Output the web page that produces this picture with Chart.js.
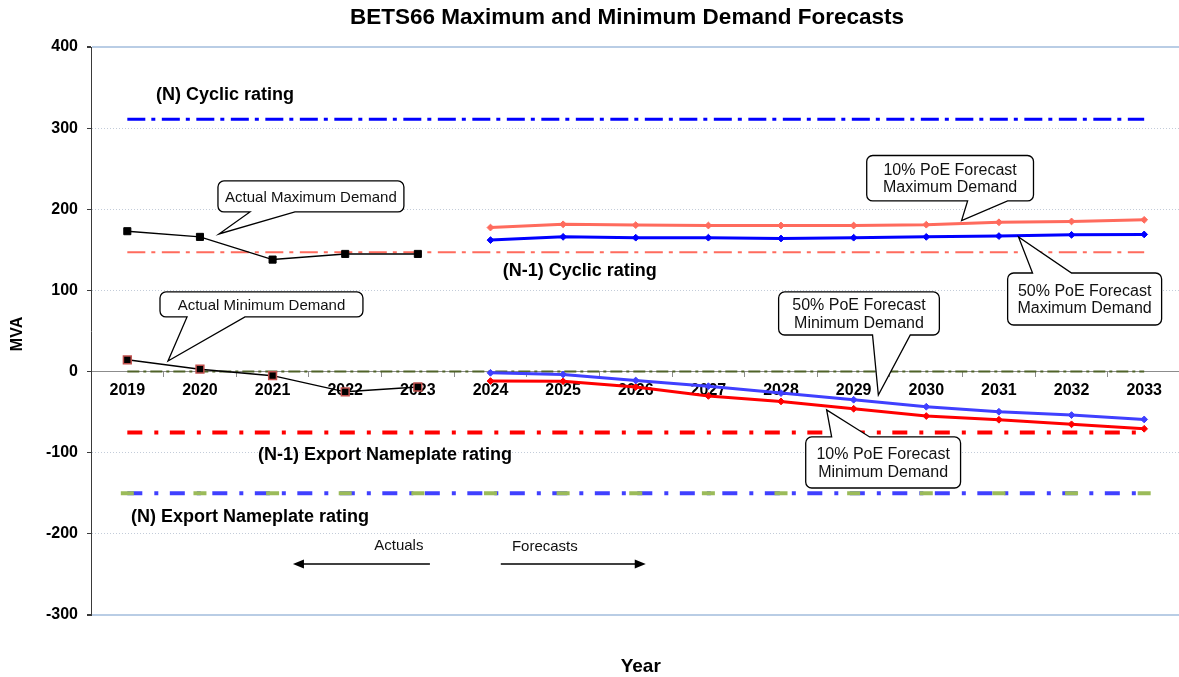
<!DOCTYPE html>
<html>
<head>
<meta charset="utf-8">
<title>BETS66 Maximum and Minimum Demand Forecasts</title>
<script src="https://cdn.jsdelivr.net/npm/chart.js@4/dist/chart.umd.min.js"></script>
<style>
  html, body { margin: 0; padding: 0; background: #ffffff; overflow: hidden; }
  canvas { display: block; }
</style>
</head>
<body>
<canvas id="chart" width="1191" height="677"></canvas>
<script>
// ---- data (MVA) ----
const years = ['2019','2020','2021','2022','2023','2024','2025','2026','2027','2028','2029','2030','2031','2032','2033'];

const actualMaxDemand = [173, 166, 138, 145, 145, null, null, null, null, null, null, null, null, null, null];
const actualMinDemand = [14.5, 3, -5, -25, -19, null, null, null, null, null, null, null, null, null, null];

const poe10MaxForecast = [null, null, null, null, null, 177.5, 181.5, 180.5, 180, 180, 180, 181, 184, 185, 187];
const poe50MaxForecast = [null, null, null, null, null, 162, 166, 165, 165, 164, 165, 166, 167, 168.5, 169];
const poe50MinForecast = [null, null, null, null, null, -1.5, -3.5, -11, -18, -26.5, -34.7, -43.3, -49.5, -53.6, -59];
const poe10MinForecast = [null, null, null, null, null, -11.7, -12, -19, -30, -36.8, -45.8, -54.8, -59.4, -65, -70.5];

const nCyclicRating      = [311, 311, 311, 311, 311, 311, 311, 311, 311, 311, 311, 311, 311, 311, 311];
const n1CyclicRating     = [147, 147, 147, 147, 147, 147, 147, 147, 147, 147, 147, 147, 147, 147, 147];
const n1ExportNameplate  = [-75, -75, -75, -75, -75, -75, -75, -75, -75, -75, -75, -75, -75, -75, -75];
const nExportNameplate   = [-150, -150, -150, -150, -150, -150, -150, -150, -150, -150, -150, -150, -150, -150, -150];
const nExportMarkers     = [-150, -150, -150, -150, -150, -150, -150, -150, -150, -150, -150, -150, -150, -150, -150];
const zeroReference      = [0, 0, 0, 0, 0, 0, 0, 0, 0, 0, 0, 0, 0, 0, 0];

const yTickValues = [-300, -200, -100, 0, 100, 200, 300, 400];

// ---- styling ----
const FONT = '"Liberation Sans", Arial, Helvetica, sans-serif';
const SALMON = '#ff6b5d';
const BLUE = '#0000ff';
const LIGHT_BLUE = '#4040ff';
const RED = '#ff0000';
const DASH_DOT_THIN = [18, 6, 4, 6.5];
const DASH_DOT_THICK = [15, 12, 4, 11.5];

// Callouts: box [leftIdx, rightIdx, topMVA, bottomMVA], pointer base on a box edge, tip near the series
const callouts = [
  { lines: ['Actual Maximum Demand'], size: 15, box: [1.248, 3.808, 234.9, 196.7], side: 'bottom', base: [1.688, 2.308], tip: [1.262, 169.6] },
  { lines: ['Actual Minimum Demand'], size: 15, box: [0.45, 3.244, 98.1, 67.3], side: 'bottom', base: [0.822, 1.62], tip: [0.56, 13.1] },
  { lines: ['10% PoE Forecast', 'Maximum Demand'], size: 16, box: [10.18, 12.476, 266.3, 210.3], side: 'bottom', base: [11.569, 12.12], tip: [11.486, 186] },
  { lines: ['50% PoE Forecast', 'Maximum Demand'], size: 16, box: [12.12, 14.24, 121.5, 57.4], side: 'top', base: [12.463, 13.0], tip: [12.27, 165.9] },
  { lines: ['50% PoE Forecast', 'Minimum Demand'], size: 16, box: [8.967, 11.18, 98.1, 45.1], side: 'bottom', base: [10.26, 10.78], tip: [10.34, -28.8] },
  { lines: ['10% PoE Forecast', 'Minimum Demand'], size: 16, box: [9.34, 11.472, -80.6, -143.5], side: 'top', base: [9.697, 10.22], tip: [9.628, -47.3] }
];

// Rating captions, left-aligned at [categoryIndex, MVA]
const ratingCaptions = [
  { text: '(N) Cyclic rating', at: [0.396, 340.9] },
  { text: '(N-1) Cyclic rating', at: [5.17, 124] },
  { text: '(N-1) Export Nameplate rating', at: [1.8, -102.8] },
  { text: '(N) Export Nameplate rating', at: [0.05, -179] }
];

// Period markers below the plot
const periodNotes = [
  { text: 'Actuals', at: [3.738, -214.5], arrow: [4.166, 2.28, -237.1] },
  { text: 'Forecasts', at: [5.748, -215.7], arrow: [5.142, 7.138, -237.1] }
];

function drawCallout(ctx, c, X, Y) {
  const x0 = X(c.box[0]), x1 = X(c.box[1]), y0 = Y(c.box[2]), y1 = Y(c.box[3]);
  const tx = X(c.tip[0]), ty = Y(c.tip[1]);
  const b0 = X(c.base[0]), b1 = X(c.base[1]);
  const r = 6;
  ctx.save();
  ctx.beginPath();
  ctx.moveTo(x0 + r, y0);
  if (c.side === 'top') { ctx.lineTo(b0, y0); ctx.lineTo(tx, ty); ctx.lineTo(b1, y0); }
  ctx.lineTo(x1 - r, y0);
  ctx.arcTo(x1, y0, x1, y0 + r, r);
  ctx.lineTo(x1, y1 - r);
  ctx.arcTo(x1, y1, x1 - r, y1, r);
  if (c.side === 'bottom') { ctx.lineTo(b1, y1); ctx.lineTo(tx, ty); ctx.lineTo(b0, y1); }
  ctx.lineTo(x0 + r, y1);
  ctx.arcTo(x0, y1, x0, y1 - r, r);
  ctx.lineTo(x0, y0 + r);
  ctx.arcTo(x0, y0, x0 + r, y0, r);
  ctx.closePath();
  ctx.fillStyle = '#ffffff';
  ctx.fill();
  ctx.lineWidth = 1.3;
  ctx.strokeStyle = '#000000';
  ctx.stroke();
  ctx.fillStyle = '#111111';
  ctx.font = c.size + 'px ' + FONT;
  ctx.textAlign = 'center';
  ctx.textBaseline = 'middle';
  const cx = (x0 + x1) / 2, cy = (y0 + y1) / 2;
  const gap = 17.4;
  const start = cy - gap * (c.lines.length - 1) / 2;
  c.lines.forEach((t, i) => ctx.fillText(t, cx, start + i * gap + 1));
  ctx.restore();
}

function drawArrow(ctx, xFrom, xTo, y) {
  const dir = Math.sign(xTo - xFrom);
  ctx.save();
  ctx.strokeStyle = '#000';
  ctx.fillStyle = '#000';
  ctx.lineWidth = 1.5;
  ctx.beginPath();
  ctx.moveTo(xFrom, y);
  ctx.lineTo(xTo - dir * 8, y);
  ctx.stroke();
  ctx.beginPath();
  ctx.moveTo(xTo, y);
  ctx.lineTo(xTo - dir * 11, y - 4.5);
  ctx.lineTo(xTo - dir * 11, y + 4.5);
  ctx.closePath();
  ctx.fill();
  ctx.restore();
}

const annotationsPlugin = {
  id: 'demandAnnotations',
  afterDraw(chart) {
    const ctx = chart.ctx;
    const xs = chart.scales.x, ys = chart.scales.y;
    const X = v => xs.getPixelForValue(v);
    const Y = v => ys.getPixelForValue(v);
    const area = chart.chartArea;

    ctx.save();
    // chart title
    ctx.fillStyle = '#000';
    ctx.font = 'bold 22.5px ' + FONT;
    ctx.textAlign = 'center';
    ctx.textBaseline = 'middle';
    ctx.fillText('BETS66 Maximum and Minimum Demand Forecasts', 627, 18);

    // axis titles
    ctx.font = 'bold 19px ' + FONT;
    ctx.fillText('Year', (area.left + area.right) / 2 + 5, 667);
    ctx.save();
    ctx.translate(18, (area.top + area.bottom) / 2 + 3);
    ctx.rotate(-Math.PI / 2);
    ctx.font = 'bold 16px ' + FONT;
    ctx.fillText('MVA', 0, 0);
    ctx.restore();

    // rating captions
    ctx.font = 'bold 18px ' + FONT;
    ctx.textAlign = 'left';
    ratingCaptions.forEach(r => ctx.fillText(r.text, X(r.at[0]), Y(r.at[1])));

    // actual / forecast period notes
    ctx.font = '15px ' + FONT;
    ctx.textAlign = 'center';
    periodNotes.forEach(n => {
      ctx.fillStyle = '#111';
      ctx.fillText(n.text, X(n.at[0]), Y(n.at[1]));
      drawArrow(ctx, X(n.arrow[0]), X(n.arrow[1]), Y(n.arrow[2]));
    });
    ctx.restore();

    callouts.forEach(c => drawCallout(ctx, c, X, Y));
  }
};

function ratingLine(label, data, color, width, dash) {
  return {
    label, data,
    borderColor: color, backgroundColor: color,
    borderWidth: width, borderDash: dash, borderCapStyle: 'butt',
    pointRadius: 0, fill: false, tension: 0
  };
}

function forecastLine(label, data, color) {
  return {
    label, data,
    borderColor: color, backgroundColor: color,
    borderWidth: 3, pointStyle: 'rectRot', pointRadius: 3.4,
    pointBackgroundColor: color, pointBorderColor: color, pointBorderWidth: 1,
    fill: false, tension: 0, spanGaps: false
  };
}

new Chart(document.getElementById('chart'), {
  type: 'line',
  data: {
    labels: years,
    datasets: [
      {
        label: 'Actual Maximum Demand', data: actualMaxDemand,
        borderColor: '#000', backgroundColor: '#000', borderWidth: 1.5,
        pointStyle: 'rect', pointRadius: 5, pointBackgroundColor: '#000', pointBorderColor: '#000',
        pointBorderWidth: 1, tension: 0, fill: false
      },
      {
        label: 'Actual Minimum Demand', data: actualMinDemand,
        borderColor: '#000', backgroundColor: '#000', borderWidth: 1.5,
        pointStyle: 'rect', pointRadius: 5.5, pointBackgroundColor: '#000', pointBorderColor: '#c0504d',
        pointBorderWidth: 1.5, tension: 0, fill: false
      },
      forecastLine('10% PoE Forecast Maximum Demand', poe10MaxForecast, SALMON),
      forecastLine('50% PoE Forecast Maximum Demand', poe50MaxForecast, BLUE),
      forecastLine('50% PoE Forecast Minimum Demand', poe50MinForecast, LIGHT_BLUE),
      forecastLine('10% PoE Forecast Minimum Demand', poe10MinForecast, RED),
      {
        label: '(N) Export Nameplate', data: nExportMarkers, showLine: false,
        pointStyle: 'line', pointRadius: 6.5, pointBorderWidth: 4,
        pointBorderColor: '#9bbb59', pointBackgroundColor: '#9bbb59',
        borderColor: '#9bbb59', backgroundColor: '#9bbb59'
      },
      ratingLine('(N) Cyclic rating', nCyclicRating, BLUE, 3, DASH_DOT_THIN),
      ratingLine('(N-1) Cyclic rating', n1CyclicRating, SALMON, 2, DASH_DOT_THIN),
      ratingLine('(N-1) Export Nameplate rating', n1ExportNameplate, RED, 4, DASH_DOT_THICK),
      ratingLine('(N) Export Nameplate rating', nExportNameplate, LIGHT_BLUE, 4, DASH_DOT_THICK),
      ratingLine('Zero', zeroReference, '#4f6228', 2, [12, 4, 3, 4])
    ]
  },
  options: {
    responsive: false,
    animation: false,
    events: [],
    layout: { padding: { top: 47, bottom: 62, left: 0, right: 1 } },
    plugins: {
      legend: { display: false },
      title: { display: false },
      tooltip: { enabled: false }
    },
    scales: {
      x: {
        type: 'category',
        position: { y: 0 },
        offset: true,
        grid: {
          display: true, drawOnChartArea: false, drawTicks: true,
          tickLength: 5, offset: true, tickColor: '#8c8c8c', tickWidth: 1
        },
        border: { display: true, color: '#8c8c8c', width: 1 },
        ticks: {
          color: '#000', font: { family: FONT, size: 16, weight: 'bold' },
          padding: 4, maxRotation: 0, autoSkip: false
        }
      },
      y: {
        type: 'linear',
        position: 'left',
        min: yTickValues[0],
        max: yTickValues[yTickValues.length - 1],
        afterFit(scale) { scale.width = 91; },
        afterBuildTicks(scale) { scale.ticks = yTickValues.map(v => ({ value: v })); },
        grid: {
          drawTicks: true, tickLength: 4, tickColor: '#3a3a3a',
          color: c => {
            const v = c.tick ? c.tick.value : null;
            if (v === 400 || v === -300) return '#b9cde5';
            if (v === 0) return 'rgba(0,0,0,0)';
            return '#c3ccd9';
          },
          lineWidth: c => {
            const v = c.tick ? c.tick.value : null;
            return (v === 400 || v === -300) ? 2 : 1;
          }
        },
        border: {
          display: true, color: '#3a3a3a', width: 1,
          dash: c => {
            const v = c.tick ? c.tick.value : null;
            return (v === 400 || v === -300 || v === null) ? [] : [1, 2];
          }
        },
        ticks: {
          color: '#000', font: { family: FONT, size: 16, weight: 'bold' },
          padding: 9
        }
      }
    }
  },
  plugins: [annotationsPlugin]
});
</script>
</body>
</html>
